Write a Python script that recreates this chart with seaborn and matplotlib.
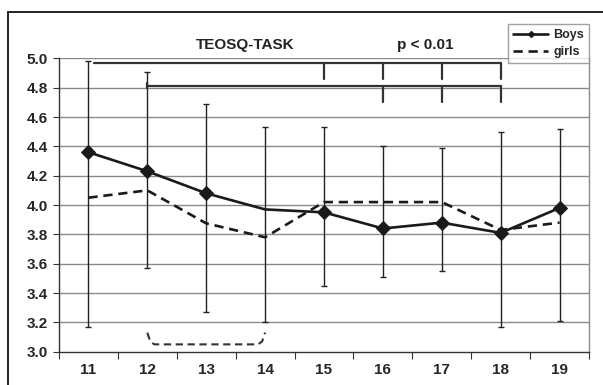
import numpy as np
import pandas as pd
import matplotlib
matplotlib.use('Agg')
import matplotlib.pyplot as plt
import matplotlib.patches as patches
from matplotlib.lines import Line2D
import seaborn as sns

ages = ['11', '12', '13', '14', '15', '16', '17', '18', '19']
boys = [4.36, 4.23, 4.08, 3.97, 3.95, 3.84, 3.88, 3.81, 3.98]
girls = [4.05, 4.10, 3.875, 3.78, 4.02, 4.02, 4.02, 3.83, 3.88]
err_upper = [4.98, 4.91, 4.69, 4.53, 4.53, 4.40, 4.39, 4.50, 4.52]
err_lower = [3.17, 3.57, 3.27, 3.20, 3.45, 3.51, 3.55, 3.17, 3.21]

sns.set_style('white')
plt.rcParams['font.family'] = ['Liberation Sans', 'DejaVu Sans']
plt.rcParams['font.weight'] = 'bold'

df = pd.DataFrame({'pos': np.arange(len(ages)), 'Boys': boys, 'girls': girls})

fig = plt.figure(figsize=(6.03, 3.85), dpi=100)
ax = fig.add_axes([0.0978, 0.0865, 0.879, 0.762])

# grid
for v in np.arange(3.2, 5.01, 0.2):
    ax.axhline(v, color='#8a8a8a', lw=1.0, zorder=0)

# error bars
b = np.array(boys)
ax.errorbar(df['pos'], b, yerr=[b - np.array(err_lower), np.array(err_upper) - b],
            fmt='none', ecolor='#222222', elinewidth=1.0, capsize=2, capthick=1.0, zorder=2)

sns.lineplot(data=df, x='pos', y='Boys', ax=ax, color='#1a1a1a', lw=1.9,
             marker='D', markersize=7, markevery=[0, 1, 2, 4, 5, 6, 7, 8],
             markeredgecolor='#1a1a1a', zorder=4, legend=False)
sns.lineplot(data=df, x='pos', y='girls', ax=ax, color='#1a1a1a', lw=1.9,
             linestyle=(0, (3.5, 2.2)), zorder=3, legend=False)

# significance brackets
ax.plot([0.1, 7], [4.97, 4.97], color='#333333', lw=1.6)
for p in [4, 5, 6, 7]:
    ax.plot([p, p], [4.97, 4.86], color='#333333', lw=1.6)
ax.plot([1, 7], [4.81, 4.81], color='#333333', lw=1.6)
ax.plot([1, 1], [4.83, 4.80], color='#333333', lw=1.6)
for p in [5, 6, 7]:
    ax.plot([p, p], [4.81, 4.70], color='#333333', lw=1.6)
ax.plot([1.0, 1.05, 1.12, 2.88, 2.95, 3.0], [3.13, 3.07, 3.05, 3.05, 3.07, 3.13],
        color='#333333', lw=1.5, linestyle=(0, (3.5, 2.2)))

ax.set_xlim(-0.5, 8.5)
ax.set_ylim(3.0, 5.0)
ax.set_xticks(np.arange(-0.5, 8.6, 1))
ax.set_xticklabels([])
ax.set_xticks(np.arange(len(ages)), minor=True)
ax.set_xticklabels(ages, minor=True)
ax.tick_params(axis='x', which='major', direction='out', length=5, color='#333333', bottom=True)
ax.tick_params(axis='x', which='minor', length=0, pad=8, labelsize=11)
ax.set_yticks(np.arange(3.0, 5.01, 0.2))
ax.set_yticklabels([f'{v:.1f}' for v in np.arange(3.0, 5.01, 0.2)])
ax.tick_params(axis='y', direction='out', length=4, left=True, color='#333333', labelsize=11, pad=4)
ax.set_xlabel('')
ax.set_ylabel('')

ax.spines['top'].set_visible(False)
ax.spines['right'].set_color('#8a8a8a')
ax.spines['left'].set_color('#333333')
ax.spines['bottom'].set_color('#333333')
for s in ['left', 'bottom', 'right']:
    ax.spines[s].set_linewidth(1.0)

fig.text(0.406, 0.882, 'TEOSQ-TASK', ha='center', va='center', fontsize=11, fontweight='bold', color='#222222')
fig.text(0.705, 0.882, 'p < 0.01', ha='center', va='center', fontsize=11, fontweight='bold', color='#222222')

handles = [Line2D([], [], color='#1a1a1a', lw=1.9, marker='D', markersize=3),
           Line2D([], [], color='#1a1a1a', lw=1.9, linestyle=(0, (3.5, 2.2)))]
leg = ax.legend(handles, ['Boys', 'girls'], loc='upper right',
                bbox_to_anchor=(589 / 603, 1 - 24 / 385), numpoints=1,
                bbox_transform=fig.transFigure, fancybox=False, frameon=True,
                edgecolor='#8a8a8a', fontsize=9, handlelength=2.8, borderpad=0.4,
                labelspacing=0.4, borderaxespad=0, handletextpad=0.4)
leg.get_frame().set_linewidth(1.0)
for t in leg.get_texts():
    t.set_fontweight('bold')

fig.add_artist(patches.Rectangle((8 / 603, -0.1), 1.2, 1 - 12 / 385 + 0.1,
                                 transform=fig.transFigure, fill=False,
                                 edgecolor='#111111', lw=1.3, clip_on=False))

fig.savefig('out.png', dpi=100)
